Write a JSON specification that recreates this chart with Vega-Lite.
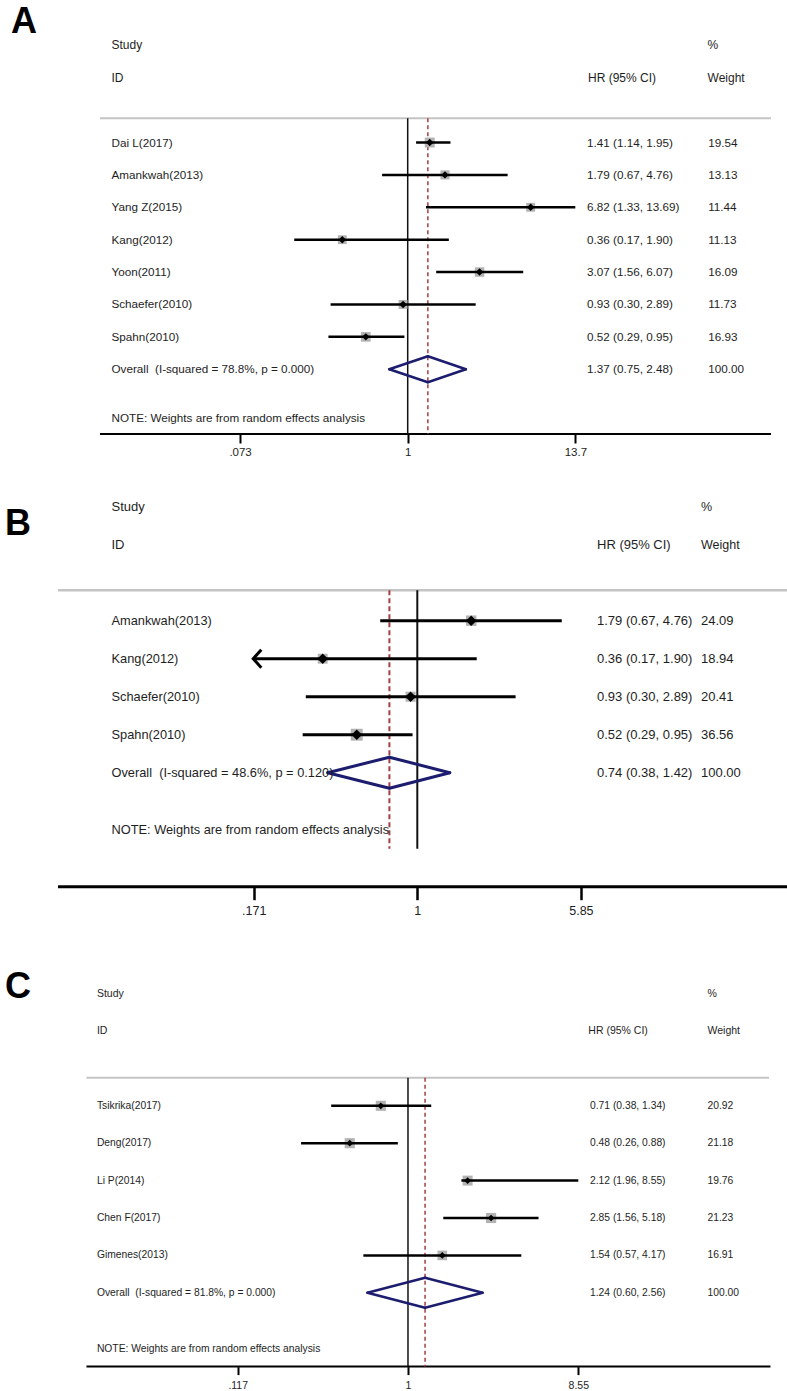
{
  "$schema": "https://vega.github.io/schema/vega-lite/v6.json",
  "padding": 0,
  "background": "white",
  "spacing": 0,
  "bounds": "flush",
  "config": {
    "view": {"stroke": null},
    "axis": {"grid": false},
    "text": {"color": "#1e1e1e", "baseline": "middle", "align": "left", "font": "Liberation Sans"}
  },
  "datasets": {
    "a": [
      {"row": 1, "study": "Dai L(2017)", "hr": 1.41, "lo": 1.14, "hi": 1.95, "w": 19.54, "ci": "1.41 (1.14, 1.95)", "wt": "19.54", "type": "study"},
      {"row": 2, "study": "Amankwah(2013)", "hr": 1.79, "lo": 0.67, "hi": 4.76, "w": 13.13, "ci": "1.79 (0.67, 4.76)", "wt": "13.13", "type": "study"},
      {"row": 3, "study": "Yang Z(2015)", "hr": 6.82, "lo": 1.33, "hi": 13.69, "w": 11.44, "ci": "6.82 (1.33, 13.69)", "wt": "11.44", "type": "study"},
      {"row": 4, "study": "Kang(2012)", "hr": 0.36, "lo": 0.17, "hi": 1.90, "w": 11.13, "ci": "0.36 (0.17, 1.90)", "wt": "11.13", "type": "study"},
      {"row": 5, "study": "Yoon(2011)", "hr": 3.07, "lo": 1.56, "hi": 6.07, "w": 16.09, "ci": "3.07 (1.56, 6.07)", "wt": "16.09", "type": "study"},
      {"row": 6, "study": "Schaefer(2010)", "hr": 0.93, "lo": 0.30, "hi": 2.89, "w": 11.73, "ci": "0.93 (0.30, 2.89)", "wt": "11.73", "type": "study"},
      {"row": 7, "study": "Spahn(2010)", "hr": 0.52, "lo": 0.29, "hi": 0.95, "w": 16.93, "ci": "0.52 (0.29, 0.95)", "wt": "16.93", "type": "study"},
      {"row": 8, "study": "Overall\u00a0 (I-squared = 78.8%, p = 0.000)", "hr": 1.37, "lo": 0.75, "hi": 2.48, "w": 100, "ci": "1.37 (0.75, 2.48)", "wt": "100.00", "type": "overall"}
    ],
    "b": [
      {"row": 1, "study": "Amankwah(2013)", "hr": 1.79, "lo": 0.67, "hi": 4.76, "w": 24.09, "ci": "1.79 (0.67, 4.76)", "wt": "24.09", "type": "study"},
      {"row": 2, "study": "Kang(2012)", "hr": 0.36, "lo": 0.17, "hi": 1.90, "w": 18.94, "ci": "0.36 (0.17, 1.90)", "wt": "18.94", "type": "study"},
      {"row": 3, "study": "Schaefer(2010)", "hr": 0.93, "lo": 0.30, "hi": 2.89, "w": 20.41, "ci": "0.93 (0.30, 2.89)", "wt": "20.41", "type": "study"},
      {"row": 4, "study": "Spahn(2010)", "hr": 0.52, "lo": 0.29, "hi": 0.95, "w": 36.56, "ci": "0.52 (0.29, 0.95)", "wt": "36.56", "type": "study"},
      {"row": 5, "study": "Overall\u00a0 (I-squared = 48.6%, p = 0.120)", "hr": 0.74, "lo": 0.38, "hi": 1.42, "w": 100, "ci": "0.74 (0.38, 1.42)", "wt": "100.00", "type": "overall"}
    ],
    "c": [
      {"row": 1, "study": "Tsikrika(2017)", "hr": 0.71, "lo": 0.38, "hi": 1.34, "w": 20.92, "ci": "0.71 (0.38, 1.34)", "wt": "20.92", "type": "study"},
      {"row": 2, "study": "Deng(2017)", "hr": 0.48, "lo": 0.26, "hi": 0.88, "w": 21.18, "ci": "0.48 (0.26, 0.88)", "wt": "21.18", "type": "study"},
      {"row": 3, "study": "Li P(2014)", "hr": 2.12, "lo": 1.96, "hi": 8.55, "w": 19.76, "ci": "2.12 (1.96, 8.55)", "wt": "19.76", "type": "study"},
      {"row": 4, "study": "Chen F(2017)", "hr": 2.85, "lo": 1.56, "hi": 5.18, "w": 21.23, "ci": "2.85 (1.56, 5.18)", "wt": "21.23", "type": "study"},
      {"row": 5, "study": "Gimenes(2013)", "hr": 1.54, "lo": 0.57, "hi": 4.17, "w": 16.91, "ci": "1.54 (0.57, 4.17)", "wt": "16.91", "type": "study"},
      {"row": 6, "study": "Overall\u00a0 (I-squared = 81.8%, p = 0.000)", "hr": 1.24, "lo": 0.60, "hi": 2.56, "w": 100, "ci": "1.24 (0.60, 2.56)", "wt": "100.00", "type": "overall"}
    ]
  },
  "vconcat": [
    {
      "width": 787,
      "height": 434,
      "layer": [
        {"data": {"values": [{}]}, "mark": {"type": "rule", "color": "#c4c4c4", "strokeWidth": 2},
         "encoding": {"x": {"datum": 0.008194, "type": "quantitative", "scale": {"type": "log", "domain": [0.00172, 373.1], "nice": false}}, "x2": {"datum": 290.6},
                      "y": {"datum": 0.25, "type": "quantitative", "scale": {"domain": [-3.4, 10], "reverse": true, "nice": false, "zero": false}, "axis": null}}},
        {"data": {"values": [{}]}, "mark": {"type": "rule", "color": "#000000", "strokeWidth": 2},
         "encoding": {"x": {"datum": 0.008194, "type": "quantitative", "scale": {"type": "log", "domain": [0.00172, 373.1], "nice": false}}, "x2": {"datum": 290.6},
                      "y": {"datum": 10, "type": "quantitative", "scale": {"domain": [-3.4, 10], "reverse": true, "nice": false, "zero": false}, "axis": null}}},
        {"data": {"values": [{}]}, "mark": {"type": "rule", "color": "#111111", "strokeWidth": 1.5},
         "encoding": {"x": {"datum": 1, "type": "quantitative", "scale": {"type": "log", "domain": [0.00172, 373.1], "nice": false}},
                      "y": {"datum": 0.25, "type": "quantitative", "scale": {"domain": [-3.4, 10], "reverse": true, "nice": false, "zero": false}, "axis": null}, "y2": {"datum": 10}}},
        {"data": {"name": "a"}, "transform": [{"filter": "datum.type === 'overall'"}], "mark": {"type": "rule", "color": "#a3403f", "strokeWidth": 1.5, "strokeDash": [4, 3]},
         "encoding": {"x": {"field": "hr", "type": "quantitative", "scale": {"type": "log", "domain": [0.00172, 373.1], "nice": false}},
                      "y": {"datum": 0.25, "type": "quantitative", "scale": {"domain": [-3.4, 10], "reverse": true, "nice": false, "zero": false}, "axis": null}, "y2": {"datum": 10}}},
        {"data": {"name": "a"}, "transform": [{"filter": "datum.type === 'study'"}], "mark": {"type": "point", "shape": "square", "filled": true, "color": "#b3b3b3", "opacity": 1},
         "encoding": {"x": {"field": "hr", "type": "quantitative", "scale": {"type": "log", "domain": [0.00172, 373.1], "nice": false}},
                      "y": {"field": "row", "type": "quantitative", "scale": {"domain": [-3.4, 10], "reverse": true, "nice": false, "zero": false}, "axis": null},
                      "size": {"field": "w", "type": "quantitative", "scale": {"domain": [0, 20], "range": [50, 150]}, "legend": null}}},
        {"data": {"name": "a"}, "transform": [{"filter": "datum.type === 'study'"}], "mark": {"type": "rule", "color": "#000000", "strokeWidth": 2.5},
         "encoding": {"x": {"field": "lo", "type": "quantitative", "scale": {"type": "log", "domain": [0.00172, 373.1], "nice": false},
                            "axis": {"values": [0.073, 1, 13.7], "domain": false, "grid": false, "title": null, "tickColor": "#000000", "tickWidth": 2, "tickSize": 9, "labelFont": "Liberation Sans", "labelFontSize": 11.5, "labelColor": "#1e1e1e", "labelPadding": 3, "labelFlush": false, "labelOverlap": false, "labelExpr": "substring(toString(datum.value), datum.value < 1 ? 1 : 0)"}},
                      "x2": {"field": "hi"},
                      "y": {"field": "row", "type": "quantitative", "scale": {"domain": [-3.4, 10], "reverse": true, "nice": false, "zero": false}, "axis": null}}},
        {"data": {"name": "a"}, "transform": [{"filter": "datum.type === 'study'"}], "mark": {"type": "point", "shape": "diamond", "filled": true, "color": "#000000", "size": 55, "opacity": 1},
         "encoding": {"x": {"field": "hr", "type": "quantitative", "scale": {"type": "log", "domain": [0.00172, 373.1], "nice": false}},
                      "y": {"field": "row", "type": "quantitative", "scale": {"domain": [-3.4, 10], "reverse": true, "nice": false, "zero": false}, "axis": null}}},
        {"data": {"name": "a"}, "transform": [{"filter": "datum.type === 'overall'"}], "mark": {"type": "rule", "color": "#1c1d6e", "strokeWidth": 2.5, "strokeCap": "round", "y2Offset": -13},
         "encoding": {"x": {"field": "lo", "type": "quantitative", "scale": {"type": "log", "domain": [0.00172, 373.1], "nice": false}}, "x2": {"field": "hr"},
                      "y": {"field": "row", "type": "quantitative", "scale": {"domain": [-3.4, 10], "reverse": true, "nice": false, "zero": false}, "axis": null}, "y2": {"field": "row"}}},
        {"data": {"name": "a"}, "transform": [{"filter": "datum.type === 'overall'"}], "mark": {"type": "rule", "color": "#1c1d6e", "strokeWidth": 2.5, "strokeCap": "round", "y2Offset": 13},
         "encoding": {"x": {"field": "lo", "type": "quantitative", "scale": {"type": "log", "domain": [0.00172, 373.1], "nice": false}}, "x2": {"field": "hr"},
                      "y": {"field": "row", "type": "quantitative", "scale": {"domain": [-3.4, 10], "reverse": true, "nice": false, "zero": false}, "axis": null}, "y2": {"field": "row"}}},
        {"data": {"name": "a"}, "transform": [{"filter": "datum.type === 'overall'"}], "mark": {"type": "rule", "color": "#1c1d6e", "strokeWidth": 2.5, "strokeCap": "round", "y2Offset": -13},
         "encoding": {"x": {"field": "hi", "type": "quantitative", "scale": {"type": "log", "domain": [0.00172, 373.1], "nice": false}}, "x2": {"field": "hr"},
                      "y": {"field": "row", "type": "quantitative", "scale": {"domain": [-3.4, 10], "reverse": true, "nice": false, "zero": false}, "axis": null}, "y2": {"field": "row"}}},
        {"data": {"name": "a"}, "transform": [{"filter": "datum.type === 'overall'"}], "mark": {"type": "rule", "color": "#1c1d6e", "strokeWidth": 2.5, "strokeCap": "round", "y2Offset": 13},
         "encoding": {"x": {"field": "hi", "type": "quantitative", "scale": {"type": "log", "domain": [0.00172, 373.1], "nice": false}}, "x2": {"field": "hr"},
                      "y": {"field": "row", "type": "quantitative", "scale": {"domain": [-3.4, 10], "reverse": true, "nice": false, "zero": false}, "axis": null}, "y2": {"field": "row"}}},
        {"data": {"name": "a"}, "mark": {"type": "text", "fontSize": 11.7},
         "encoding": {"x": {"datum": 0.009805, "type": "quantitative", "scale": {"type": "log", "domain": [0.00172, 373.1], "nice": false}},
                      "y": {"field": "row", "type": "quantitative", "scale": {"domain": [-3.4, 10], "reverse": true, "nice": false, "zero": false}, "axis": null}, "text": {"field": "study"}}},
        {"data": {"name": "a"}, "mark": {"type": "text", "fontSize": 11.7},
         "encoding": {"x": {"datum": 16.44, "type": "quantitative", "scale": {"type": "log", "domain": [0.00172, 373.1], "nice": false}},
                      "y": {"field": "row", "type": "quantitative", "scale": {"domain": [-3.4, 10], "reverse": true, "nice": false, "zero": false}, "axis": null}, "text": {"field": "ci"}}},
        {"data": {"name": "a"}, "mark": {"type": "text", "fontSize": 11.7},
         "encoding": {"x": {"datum": 109, "type": "quantitative", "scale": {"type": "log", "domain": [0.00172, 373.1], "nice": false}},
                      "y": {"field": "row", "type": "quantitative", "scale": {"domain": [-3.4, 10], "reverse": true, "nice": false, "zero": false}, "axis": null}, "text": {"field": "wt"}}},
        {"data": {"values": [{"row": -2, "t": "Study"}, {"row": -1, "t": "ID"}]}, "mark": {"type": "text", "fontSize": 12},
         "encoding": {"x": {"datum": 0.009805, "type": "quantitative", "scale": {"type": "log", "domain": [0.00172, 373.1], "nice": false}},
                      "y": {"field": "row", "type": "quantitative", "scale": {"domain": [-3.4, 10], "reverse": true, "nice": false, "zero": false}, "axis": null}, "text": {"field": "t"}}},
        {"data": {"values": [{"row": -1, "t": "HR (95% CI)"}]}, "mark": {"type": "text", "fontSize": 12},
         "encoding": {"x": {"datum": 16.7, "type": "quantitative", "scale": {"type": "log", "domain": [0.00172, 373.1], "nice": false}},
                      "y": {"field": "row", "type": "quantitative", "scale": {"domain": [-3.4, 10], "reverse": true, "nice": false, "zero": false}, "axis": null}, "text": {"field": "t"}}},
        {"data": {"values": [{"row": -2, "t": "%"}, {"row": -1, "t": "Weight"}]}, "mark": {"type": "text", "fontSize": 12},
         "encoding": {"x": {"datum": 107.9, "type": "quantitative", "scale": {"type": "log", "domain": [0.00172, 373.1], "nice": false}},
                      "y": {"field": "row", "type": "quantitative", "scale": {"domain": [-3.4, 10], "reverse": true, "nice": false, "zero": false}, "axis": null}, "text": {"field": "t"}}},
        {"data": {"values": [{"row": 9.5, "t": "NOTE: Weights are from random effects analysis"}]}, "mark": {"type": "text", "fontSize": 11.7},
         "encoding": {"x": {"datum": 0.009805, "type": "quantitative", "scale": {"type": "log", "domain": [0.00172, 373.1], "nice": false}},
                      "y": {"field": "row", "type": "quantitative", "scale": {"domain": [-3.4, 10], "reverse": true, "nice": false, "zero": false}, "axis": null}, "text": {"field": "t"}}},
        {"data": {"values": [{"row": -2.72, "t": "A"}]}, "mark": {"type": "text", "fontSize": 36, "fontWeight": "bold", "color": "#000000"},
         "encoding": {"x": {"datum": 0.002043, "type": "quantitative", "scale": {"type": "log", "domain": [0.00172, 373.1], "nice": false}},
                      "y": {"field": "row", "type": "quantitative", "scale": {"domain": [-3.4, 10], "reverse": true, "nice": false, "zero": false}, "axis": null}, "text": {"field": "t"}}}
      ]
    },
    {
      "width": 787,
      "height": 452.7,
      "layer": [
        {"data": {"values": [{}]}, "mark": {"type": "rule", "color": "#c4c4c4", "strokeWidth": 2.5},
         "encoding": {"x": {"datum": 0.02065, "type": "quantitative", "scale": {"type": "log", "domain": [0.01104, 54.17], "nice": false}}, "x2": {"datum": 54.17},
                      "y": {"datum": 0.2, "type": "quantitative", "scale": {"domain": [-3.913, 8], "reverse": true, "nice": false, "zero": false}, "axis": null}}},
        {"data": {"values": [{}]}, "mark": {"type": "rule", "color": "#000000", "strokeWidth": 3},
         "encoding": {"x": {"datum": 0.02065, "type": "quantitative", "scale": {"type": "log", "domain": [0.01104, 54.17], "nice": false}}, "x2": {"datum": 54.17},
                      "y": {"datum": 8, "type": "quantitative", "scale": {"domain": [-3.913, 8], "reverse": true, "nice": false, "zero": false}, "axis": null}}},
        {"data": {"values": [{}]}, "mark": {"type": "rule", "color": "#111111", "strokeWidth": 2},
         "encoding": {"x": {"datum": 1, "type": "quantitative", "scale": {"type": "log", "domain": [0.01104, 54.17], "nice": false}},
                      "y": {"datum": 0.2, "type": "quantitative", "scale": {"domain": [-3.913, 8], "reverse": true, "nice": false, "zero": false}, "axis": null}, "y2": {"datum": 7}}},
        {"data": {"name": "b"}, "transform": [{"filter": "datum.type === 'overall'"}], "mark": {"type": "rule", "color": "#a3403f", "strokeWidth": 2, "strokeDash": [5, 3]},
         "encoding": {"x": {"field": "hr", "type": "quantitative", "scale": {"type": "log", "domain": [0.01104, 54.17], "nice": false}},
                      "y": {"datum": 0.2, "type": "quantitative", "scale": {"domain": [-3.913, 8], "reverse": true, "nice": false, "zero": false}, "axis": null}, "y2": {"datum": 7}}},
        {"data": {"name": "b"}, "transform": [{"filter": "datum.type === 'study'"}], "mark": {"type": "point", "shape": "square", "filled": true, "color": "#b3b3b3", "opacity": 1},
         "encoding": {"x": {"field": "hr", "type": "quantitative", "scale": {"type": "log", "domain": [0.01104, 54.17], "nice": false}},
                      "y": {"field": "row", "type": "quantitative", "scale": {"domain": [-3.913, 8], "reverse": true, "nice": false, "zero": false}, "axis": null},
                      "size": {"field": "w", "type": "quantitative", "scale": {"domain": [0, 40], "range": [120, 340]}, "legend": null}}},
        {"data": {"name": "b"}, "transform": [{"filter": "datum.type === 'study'"}], "mark": {"type": "rule", "color": "#000000", "strokeWidth": 3},
         "encoding": {"x": {"field": "lo", "type": "quantitative", "scale": {"type": "log", "domain": [0.01104, 54.17], "nice": false},
                            "axis": {"values": [0.171, 1, 5.85], "domain": false, "grid": false, "title": null, "tickColor": "#000000", "tickWidth": 2.5, "tickSize": 13, "labelFont": "Liberation Sans", "labelFontSize": 12.5, "labelColor": "#1e1e1e", "labelPadding": 5, "labelFlush": false, "labelOverlap": false, "labelExpr": "substring(toString(datum.value), datum.value < 1 ? 1 : 0)"}},
                      "x2": {"field": "hi"},
                      "y": {"field": "row", "type": "quantitative", "scale": {"domain": [-3.913, 8], "reverse": true, "nice": false, "zero": false}, "axis": null}}},
        {"data": {"name": "b"}, "transform": [{"filter": "datum.lo < 0.171"}], "mark": {"type": "point", "shape": "M 0.9 -1 L 0 0 L 0.9 1", "filled": false, "stroke": "#000000", "strokeWidth": 3, "size": 324, "opacity": 1},
         "encoding": {"x": {"field": "lo", "type": "quantitative", "scale": {"type": "log", "domain": [0.01104, 54.17], "nice": false}},
                      "y": {"field": "row", "type": "quantitative", "scale": {"domain": [-3.913, 8], "reverse": true, "nice": false, "zero": false}, "axis": null}}},
        {"data": {"name": "b"}, "transform": [{"filter": "datum.type === 'study'"}], "mark": {"type": "point", "shape": "diamond", "filled": true, "color": "#000000", "size": 110, "opacity": 1},
         "encoding": {"x": {"field": "hr", "type": "quantitative", "scale": {"type": "log", "domain": [0.01104, 54.17], "nice": false}},
                      "y": {"field": "row", "type": "quantitative", "scale": {"domain": [-3.913, 8], "reverse": true, "nice": false, "zero": false}, "axis": null}}},
        {"data": {"name": "b"}, "transform": [{"filter": "datum.type === 'overall'"}], "mark": {"type": "rule", "color": "#1c1d6e", "strokeWidth": 3, "strokeCap": "round", "y2Offset": -15.5},
         "encoding": {"x": {"field": "lo", "type": "quantitative", "scale": {"type": "log", "domain": [0.01104, 54.17], "nice": false}}, "x2": {"field": "hr"},
                      "y": {"field": "row", "type": "quantitative", "scale": {"domain": [-3.913, 8], "reverse": true, "nice": false, "zero": false}, "axis": null}, "y2": {"field": "row"}}},
        {"data": {"name": "b"}, "transform": [{"filter": "datum.type === 'overall'"}], "mark": {"type": "rule", "color": "#1c1d6e", "strokeWidth": 3, "strokeCap": "round", "y2Offset": 15.5},
         "encoding": {"x": {"field": "lo", "type": "quantitative", "scale": {"type": "log", "domain": [0.01104, 54.17], "nice": false}}, "x2": {"field": "hr"},
                      "y": {"field": "row", "type": "quantitative", "scale": {"domain": [-3.913, 8], "reverse": true, "nice": false, "zero": false}, "axis": null}, "y2": {"field": "row"}}},
        {"data": {"name": "b"}, "transform": [{"filter": "datum.type === 'overall'"}], "mark": {"type": "rule", "color": "#1c1d6e", "strokeWidth": 3, "strokeCap": "round", "y2Offset": -15.5},
         "encoding": {"x": {"field": "hi", "type": "quantitative", "scale": {"type": "log", "domain": [0.01104, 54.17], "nice": false}}, "x2": {"field": "hr"},
                      "y": {"field": "row", "type": "quantitative", "scale": {"domain": [-3.913, 8], "reverse": true, "nice": false, "zero": false}, "axis": null}, "y2": {"field": "row"}}},
        {"data": {"name": "b"}, "transform": [{"filter": "datum.type === 'overall'"}], "mark": {"type": "rule", "color": "#1c1d6e", "strokeWidth": 3, "strokeCap": "round", "y2Offset": 15.5},
         "encoding": {"x": {"field": "hi", "type": "quantitative", "scale": {"type": "log", "domain": [0.01104, 54.17], "nice": false}}, "x2": {"field": "hr"},
                      "y": {"field": "row", "type": "quantitative", "scale": {"domain": [-3.913, 8], "reverse": true, "nice": false, "zero": false}, "axis": null}, "y2": {"field": "row"}}},
        {"data": {"name": "b"}, "mark": {"type": "text", "fontSize": 12.8},
         "encoding": {"x": {"datum": 0.0368, "type": "quantitative", "scale": {"type": "log", "domain": [0.01104, 54.17], "nice": false}},
                      "y": {"field": "row", "type": "quantitative", "scale": {"domain": [-3.913, 8], "reverse": true, "nice": false, "zero": false}, "axis": null}, "text": {"field": "study"}}},
        {"data": {"name": "b"}, "mark": {"type": "text", "fontSize": 13},
         "encoding": {"x": {"datum": 6.963, "type": "quantitative", "scale": {"type": "log", "domain": [0.01104, 54.17], "nice": false}},
                      "y": {"field": "row", "type": "quantitative", "scale": {"domain": [-3.913, 8], "reverse": true, "nice": false, "zero": false}, "axis": null}, "text": {"field": "ci"}}},
        {"data": {"name": "b"}, "mark": {"type": "text", "fontSize": 13},
         "encoding": {"x": {"datum": 21.41, "type": "quantitative", "scale": {"type": "log", "domain": [0.01104, 54.17], "nice": false}},
                      "y": {"field": "row", "type": "quantitative", "scale": {"domain": [-3.913, 8], "reverse": true, "nice": false, "zero": false}, "axis": null}, "text": {"field": "wt"}}},
        {"data": {"values": [{"row": -2, "t": "Study"}, {"row": -1, "t": "ID"}]}, "mark": {"type": "text", "fontSize": 13},
         "encoding": {"x": {"datum": 0.0368, "type": "quantitative", "scale": {"type": "log", "domain": [0.01104, 54.17], "nice": false}},
                      "y": {"field": "row", "type": "quantitative", "scale": {"domain": [-3.913, 8], "reverse": true, "nice": false, "zero": false}, "axis": null}, "text": {"field": "t"}}},
        {"data": {"values": [{"row": -1, "t": "HR (95% CI)"}]}, "mark": {"type": "text", "fontSize": 13},
         "encoding": {"x": {"datum": 6.963, "type": "quantitative", "scale": {"type": "log", "domain": [0.01104, 54.17], "nice": false}},
                      "y": {"field": "row", "type": "quantitative", "scale": {"domain": [-3.913, 8], "reverse": true, "nice": false, "zero": false}, "axis": null}, "text": {"field": "t"}}},
        {"data": {"values": [{"row": -2, "t": "%"}, {"row": -1, "t": "Weight"}]}, "mark": {"type": "text", "fontSize": 12.5},
         "encoding": {"x": {"datum": 21.41, "type": "quantitative", "scale": {"type": "log", "domain": [0.01104, 54.17], "nice": false}},
                      "y": {"field": "row", "type": "quantitative", "scale": {"domain": [-3.913, 8], "reverse": true, "nice": false, "zero": false}, "axis": null}, "text": {"field": "t"}}},
        {"data": {"values": [{"row": 6.5, "t": "NOTE: Weights are from random effects analysis"}]}, "mark": {"type": "text", "fontSize": 12.8},
         "encoding": {"x": {"datum": 0.0368, "type": "quantitative", "scale": {"type": "log", "domain": [0.01104, 54.17], "nice": false}},
                      "y": {"field": "row", "type": "quantitative", "scale": {"domain": [-3.913, 8], "reverse": true, "nice": false, "zero": false}, "axis": null}, "text": {"field": "t"}}},
        {"data": {"values": [{"row": -1.55, "t": "B"}]}, "mark": {"type": "text", "fontSize": 36, "fontWeight": "bold", "color": "#000000"},
         "encoding": {"x": {"datum": 0.01165, "type": "quantitative", "scale": {"type": "log", "domain": [0.01104, 54.17], "nice": false}},
                      "y": {"field": "row", "type": "quantitative", "scale": {"domain": [-3.913, 8], "reverse": true, "nice": false, "zero": false}, "axis": null}, "text": {"field": "t"}}}
      ]
    },
    {
      "width": 787,
      "height": 479.6,
      "layer": [
        {"data": {"values": [{}]}, "mark": {"type": "rule", "color": "#c4c4c4", "strokeWidth": 2},
         "encoding": {"x": {"datum": 0.0174, "type": "quantitative", "scale": {"type": "log", "domain": [0.005853, 118.6], "nice": false}}, "x2": {"datum": 94.53},
                      "y": {"datum": 0.25, "type": "quantitative", "scale": {"domain": [-4.85, 7.973], "reverse": true, "nice": false, "zero": false}, "axis": null}}},
        {"data": {"values": [{}]}, "mark": {"type": "rule", "color": "#000000", "strokeWidth": 2},
         "encoding": {"x": {"datum": 0.0174, "type": "quantitative", "scale": {"type": "log", "domain": [0.005853, 118.6], "nice": false}}, "x2": {"datum": 96.33},
                      "y": {"datum": 7.973, "type": "quantitative", "scale": {"domain": [-4.85, 7.973], "reverse": true, "nice": false, "zero": false}, "axis": null}}},
        {"data": {"values": [{}]}, "mark": {"type": "rule", "color": "#111111", "strokeWidth": 1.5},
         "encoding": {"x": {"datum": 1, "type": "quantitative", "scale": {"type": "log", "domain": [0.005853, 118.6], "nice": false}},
                      "y": {"datum": 0.25, "type": "quantitative", "scale": {"domain": [-4.85, 7.973], "reverse": true, "nice": false, "zero": false}, "axis": null}, "y2": {"datum": 7.973}}},
        {"data": {"name": "c"}, "transform": [{"filter": "datum.type === 'overall'"}], "mark": {"type": "rule", "color": "#a3403f", "strokeWidth": 1.5, "strokeDash": [4, 3]},
         "encoding": {"x": {"field": "hr", "type": "quantitative", "scale": {"type": "log", "domain": [0.005853, 118.6], "nice": false}},
                      "y": {"datum": 0.25, "type": "quantitative", "scale": {"domain": [-4.85, 7.973], "reverse": true, "nice": false, "zero": false}, "axis": null}, "y2": {"datum": 7.973}}},
        {"data": {"name": "c"}, "transform": [{"filter": "datum.type === 'study'"}], "mark": {"type": "point", "shape": "square", "filled": true, "color": "#b3b3b3", "opacity": 1},
         "encoding": {"x": {"field": "hr", "type": "quantitative", "scale": {"type": "log", "domain": [0.005853, 118.6], "nice": false}},
                      "y": {"field": "row", "type": "quantitative", "scale": {"domain": [-4.85, 7.973], "reverse": true, "nice": false, "zero": false}, "axis": null},
                      "size": {"field": "w", "type": "quantitative", "scale": {"domain": [0, 25], "range": [70, 120]}, "legend": null}}},
        {"data": {"name": "c"}, "transform": [{"filter": "datum.type === 'study'"}], "mark": {"type": "rule", "color": "#000000", "strokeWidth": 2.5},
         "encoding": {"x": {"field": "lo", "type": "quantitative", "scale": {"type": "log", "domain": [0.005853, 118.6], "nice": false},
                            "axis": {"values": [0.117, 1, 8.55], "domain": false, "grid": false, "title": null, "tickColor": "#000000", "tickWidth": 2, "tickSize": 8, "labelFont": "Liberation Sans", "labelFontSize": 10.5, "labelColor": "#1e1e1e", "labelPadding": 6, "labelFlush": false, "labelOverlap": false, "labelExpr": "substring(toString(datum.value), datum.value < 1 ? 1 : 0)"}},
                      "x2": {"field": "hi"},
                      "y": {"field": "row", "type": "quantitative", "scale": {"domain": [-4.85, 7.973], "reverse": true, "nice": false, "zero": false}, "axis": null}}},
        {"data": {"name": "c"}, "transform": [{"filter": "datum.type === 'study'"}], "mark": {"type": "point", "shape": "diamond", "filled": true, "color": "#000000", "size": 45, "opacity": 1},
         "encoding": {"x": {"field": "hr", "type": "quantitative", "scale": {"type": "log", "domain": [0.005853, 118.6], "nice": false}},
                      "y": {"field": "row", "type": "quantitative", "scale": {"domain": [-4.85, 7.973], "reverse": true, "nice": false, "zero": false}, "axis": null}}},
        {"data": {"name": "c"}, "transform": [{"filter": "datum.type === 'overall'"}], "mark": {"type": "rule", "color": "#1c1d6e", "strokeWidth": 2.5, "strokeCap": "round", "y2Offset": -15},
         "encoding": {"x": {"field": "lo", "type": "quantitative", "scale": {"type": "log", "domain": [0.005853, 118.6], "nice": false}}, "x2": {"field": "hr"},
                      "y": {"field": "row", "type": "quantitative", "scale": {"domain": [-4.85, 7.973], "reverse": true, "nice": false, "zero": false}, "axis": null}, "y2": {"field": "row"}}},
        {"data": {"name": "c"}, "transform": [{"filter": "datum.type === 'overall'"}], "mark": {"type": "rule", "color": "#1c1d6e", "strokeWidth": 2.5, "strokeCap": "round", "y2Offset": 15},
         "encoding": {"x": {"field": "lo", "type": "quantitative", "scale": {"type": "log", "domain": [0.005853, 118.6], "nice": false}}, "x2": {"field": "hr"},
                      "y": {"field": "row", "type": "quantitative", "scale": {"domain": [-4.85, 7.973], "reverse": true, "nice": false, "zero": false}, "axis": null}, "y2": {"field": "row"}}},
        {"data": {"name": "c"}, "transform": [{"filter": "datum.type === 'overall'"}], "mark": {"type": "rule", "color": "#1c1d6e", "strokeWidth": 2.5, "strokeCap": "round", "y2Offset": -15},
         "encoding": {"x": {"field": "hi", "type": "quantitative", "scale": {"type": "log", "domain": [0.005853, 118.6], "nice": false}}, "x2": {"field": "hr"},
                      "y": {"field": "row", "type": "quantitative", "scale": {"domain": [-4.85, 7.973], "reverse": true, "nice": false, "zero": false}, "axis": null}, "y2": {"field": "row"}}},
        {"data": {"name": "c"}, "transform": [{"filter": "datum.type === 'overall'"}], "mark": {"type": "rule", "color": "#1c1d6e", "strokeWidth": 2.5, "strokeCap": "round", "y2Offset": 15},
         "encoding": {"x": {"field": "hi", "type": "quantitative", "scale": {"type": "log", "domain": [0.005853, 118.6], "nice": false}}, "x2": {"field": "hr"},
                      "y": {"field": "row", "type": "quantitative", "scale": {"domain": [-4.85, 7.973], "reverse": true, "nice": false, "zero": false}, "axis": null}, "y2": {"field": "row"}}},
        {"data": {"name": "c"}, "mark": {"type": "text", "fontSize": 10.3},
         "encoding": {"x": {"datum": 0.01985, "type": "quantitative", "scale": {"type": "log", "domain": [0.005853, 118.6], "nice": false}},
                      "y": {"field": "row", "type": "quantitative", "scale": {"domain": [-4.85, 7.973], "reverse": true, "nice": false, "zero": false}, "axis": null}, "text": {"field": "study"}}},
        {"data": {"name": "c"}, "mark": {"type": "text", "fontSize": 10.3},
         "encoding": {"x": {"datum": 9.908, "type": "quantitative", "scale": {"type": "log", "domain": [0.005853, 118.6], "nice": false}},
                      "y": {"field": "row", "type": "quantitative", "scale": {"domain": [-4.85, 7.973], "reverse": true, "nice": false, "zero": false}, "axis": null}, "text": {"field": "ci"}}},
        {"data": {"name": "c"}, "mark": {"type": "text", "fontSize": 10.3},
         "encoding": {"x": {"datum": 43.55, "type": "quantitative", "scale": {"type": "log", "domain": [0.005853, 118.6], "nice": false}},
                      "y": {"field": "row", "type": "quantitative", "scale": {"domain": [-4.85, 7.973], "reverse": true, "nice": false, "zero": false}, "axis": null}, "text": {"field": "wt"}}},
        {"data": {"values": [{"row": -2, "t": "Study"}, {"row": -1, "t": "ID"}]}, "mark": {"type": "text", "fontSize": 10.5},
         "encoding": {"x": {"datum": 0.01985, "type": "quantitative", "scale": {"type": "log", "domain": [0.005853, 118.6], "nice": false}},
                      "y": {"field": "row", "type": "quantitative", "scale": {"domain": [-4.85, 7.973], "reverse": true, "nice": false, "zero": false}, "axis": null}, "text": {"field": "t"}}},
        {"data": {"values": [{"row": -1, "t": "HR (95% CI)"}]}, "mark": {"type": "text", "fontSize": 10.5},
         "encoding": {"x": {"datum": 9.7, "type": "quantitative", "scale": {"type": "log", "domain": [0.005853, 118.6], "nice": false}},
                      "y": {"field": "row", "type": "quantitative", "scale": {"domain": [-4.85, 7.973], "reverse": true, "nice": false, "zero": false}, "axis": null}, "text": {"field": "t"}}},
        {"data": {"values": [{"row": -2, "t": "%"}, {"row": -1, "t": "Weight"}]}, "mark": {"type": "text", "fontSize": 10.5},
         "encoding": {"x": {"datum": 43.55, "type": "quantitative", "scale": {"type": "log", "domain": [0.005853, 118.6], "nice": false}},
                      "y": {"field": "row", "type": "quantitative", "scale": {"domain": [-4.85, 7.973], "reverse": true, "nice": false, "zero": false}, "axis": null}, "text": {"field": "t"}}},
        {"data": {"values": [{"row": 7.5, "t": "NOTE: Weights are from random effects analysis"}]}, "mark": {"type": "text", "fontSize": 10.3},
         "encoding": {"x": {"datum": 0.01985, "type": "quantitative", "scale": {"type": "log", "domain": [0.005853, 118.6], "nice": false}},
                      "y": {"field": "row", "type": "quantitative", "scale": {"domain": [-4.85, 7.973], "reverse": true, "nice": false, "zero": false}, "axis": null}, "text": {"field": "t"}}},
        {"data": {"values": [{"row": -2.17, "t": "C"}]}, "mark": {"type": "text", "fontSize": 36, "fontWeight": "bold", "color": "#000000"},
         "encoding": {"x": {"datum": 0.006233, "type": "quantitative", "scale": {"type": "log", "domain": [0.005853, 118.6], "nice": false}},
                      "y": {"field": "row", "type": "quantitative", "scale": {"domain": [-4.85, 7.973], "reverse": true, "nice": false, "zero": false}, "axis": null}, "text": {"field": "t"}}}
      ]
    }
  ]
}
